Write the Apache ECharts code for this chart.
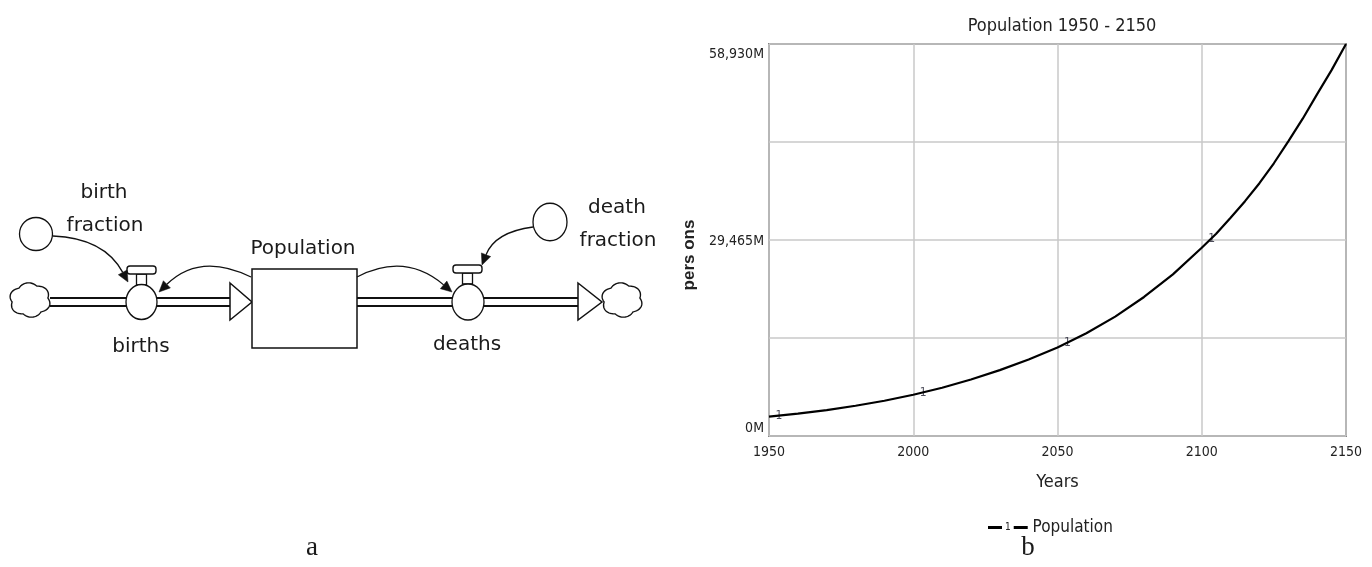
<!DOCTYPE html>
<html>
<head>
<meta charset="utf-8">
<script src="https://cdn.jsdelivr.net/npm/echarts@6/dist/echarts.min.js"></script>
<style>
  html, body { margin: 0; padding: 0; background: #fff; }
  #chart { width: 1372px; height: 567px; }
</style>
</head>
<body>
<div id="chart"></div>
<script>
// ---- data ----
const years = [1950, 1960, 1970, 1980, 1990, 2000, 2010, 2020, 2030, 2040, 2050,
               2060, 2070, 2080, 2090, 2100, 2105, 2110, 2115, 2120, 2125, 2130,
               2135, 2140, 2145, 2150];
const population = [2900, 3350, 3900, 4550, 5300, 6200, 7250, 8500, 9900, 11500, 13300,
                    15450, 17950, 20900, 24300, 28300, 30400, 32800, 35300, 38000, 41000, 44300,
                    47700, 51400, 55000, 58930];
const markerYears = [1953.4, 2003.4, 2053.4, 2103.4];
const markerValues = [3050, 6550, 14000, 29600];
const markerLabel = '1';
const xTickLabels = ['1950', '2000', '2050', '2100', '2150'];
const yTickLabels = ['0M', '', '29,465M', '', '58,930M'];
const yMax = 58930;
const chartTitle = 'Population 1950 - 2150';
const seriesName = 'Population';
const xName = 'Years';
const yName = 'pers ons';
const diagramTexts = {
  birth1: 'birth', birth2: 'fraction', stock: 'Population', births: 'births',
  death1: 'death', death2: 'fraction', deaths: 'deaths', a: 'a', b: 'b'
};

// ---- rendering ----
const NARROW = "'Liberation Sans Narrow', 'Arial Narrow', 'DejaVu Sans Condensed', sans-serif";
const DIA = "'DejaVu Sans', sans-serif";
const SERIF = "'Liberation Serif', 'Times New Roman', serif";
const ink = '#111';

const linePoints = years.map((y, i) => [y, population[i]]);
const markerPoints = markerYears.map((y, i) => [y, markerValues[i]]);
const yInterval = yMax / 4;

function link(p0, c, tip) {
  const dx = tip[0] - c[0], dy = tip[1] - c[1];
  const L = Math.hypot(dx, dy);
  const ux = dx / L, uy = dy / L;
  const bx = tip[0] - ux * 11, by = tip[1] - uy * 11;
  const nx = -uy, ny = ux;
  return [
    { type: 'bezierCurve', shape: { x1: p0[0], y1: p0[1], x2: bx, y2: by, cpx1: c[0], cpy1: c[1] },
      style: { stroke: ink, lineWidth: 1.3, fill: null } },
    { type: 'polygon', shape: { points: [tip, [bx + nx * 5, by + ny * 5], [bx - nx * 5, by - ny * 5]] },
      style: { fill: ink, stroke: ink, lineWidth: 0.5 } }
  ];
}
function pipe(x1, x2) {
  return [
    { type: 'line', shape: { x1: x1, y1: 298, x2: x2, y2: 298 }, style: { stroke: ink, lineWidth: 2 } },
    { type: 'line', shape: { x1: x1, y1: 306, x2: x2, y2: 306 }, style: { stroke: ink, lineWidth: 2 } }
  ];
}
function hollowArrow(xb, xt) {
  return { type: 'polygon', shape: { points: [[xb, 283], [xt, 302], [xb, 320]] },
           style: { fill: '#fff', stroke: ink, lineWidth: 1.5 } };
}
function cloud(cx, cy) {
  const pts = [];
  for (let k = 0; k < 160; k++) {
    const t = k / 160 * Math.PI * 2;
    const rr = 1 + 0.15 * Math.abs(Math.sin(3 * t + 0.4));
    pts.push([cx + 18 * rr * Math.cos(t), cy + 15 * rr * Math.sin(t)]);
  }
  return { type: 'polygon', shape: { points: pts }, style: { fill: '#fff', stroke: ink, lineWidth: 1.4 } };
}
function valve(cx, cy, rx, ry, hx1, hx2, hy) {
  return [
    { type: 'rect', shape: { x: (hx1 + hx2) / 2 - 5, y: hy + 8, width: 10, height: 11 },
      style: { fill: '#fff', stroke: ink, lineWidth: 1.3 } },
    { type: 'rect', shape: { x: hx1, y: hy, width: hx2 - hx1, height: 8, r: 3 },
      style: { fill: '#fff', stroke: ink, lineWidth: 1.4 } },
    { type: 'circle', x: cx, y: cy, scaleY: ry / rx, shape: { cx: 0, cy: 0, r: rx },
      style: { fill: '#fff', stroke: ink, lineWidth: 1.3 } }
  ];
}
function txt(s, x, y, size, family) {
  return { type: 'text', x: x, y: y,
           style: { text: s, fontSize: size, fontFamily: family, fill: '#1a1a1a', align: 'center', verticalAlign: 'middle' } };
}
function aux(cx, cy, rx, ry) {
  return { type: 'circle', x: cx, y: cy, scaleY: ry / rx, shape: { cx: 0, cy: 0, r: rx },
           style: { fill: '#fff', stroke: ink, lineWidth: 1.3 } };
}

const graphics = [].concat(
  pipe(50, 230), pipe(357, 578),
  [hollowArrow(230, 252), hollowArrow(578, 602)],
  [{ type: 'rect', shape: { x: 252, y: 269, width: 105, height: 79 },
     style: { fill: '#fff', stroke: ink, lineWidth: 1.5 } }],
  [cloud(30, 300), cloud(622, 300)],
  valve(141.5, 302, 15.5, 17.5, 127, 156, 266),
  valve(468, 302, 16, 18, 453, 482, 265),
  [aux(36, 234, 16.5, 16.5), aux(550, 222, 17, 18.7)],
  link([53, 236], [104, 238], [128, 282]),
  link([251, 277], [200, 252], [159, 292]),
  link([357, 277], [405, 252], [452, 292]),
  link([533, 227], [495, 232], [482, 265]),
  [
    txt(diagramTexts.birth1, 104, 193, 20, DIA),
    txt(diagramTexts.birth2, 105, 226, 20, DIA),
    txt(diagramTexts.stock, 303, 249, 20, DIA),
    txt(diagramTexts.births, 141, 347, 20, DIA),
    txt(diagramTexts.death1, 617, 208, 20, DIA),
    txt(diagramTexts.death2, 618, 241, 20, DIA),
    txt(diagramTexts.deaths, 467, 345, 20, DIA),
    txt(diagramTexts.a, 312, 548, 27, SERIF),
    txt(diagramTexts.b, 1028, 548, 27, SERIF)
  ]
);

const chart = echarts.init(document.getElementById('chart'), null, { renderer: 'canvas' });
chart.setOption({
  animation: false,
  backgroundColor: '#fff',
  title: {
    text: chartTitle, left: 1057, top: 12, textAlign: 'center',
    textStyle: { fontFamily: NARROW, fontSize: 18, fontWeight: 'normal', color: '#222' }
  },
  grid: {
    left: 769, right: 26, top: 44, bottom: 131, show: true,
    borderColor: '#858585', borderWidth: 2, backgroundColor: 'transparent'
  },
  legend: {
    data: [seriesName], left: 978, top: 514, icon: 'rect', itemWidth: 0, itemHeight: 0,
    selectedMode: false,
    formatter: '{d| }{o|' + markerLabel + '}{d| }{t| ' + seriesName + '}',
    textStyle: {
      color: '#222',
      rich: {
        d: { width: 14, height: 3, backgroundColor: '#000', fontSize: 2 },
        o: { fontSize: 10, fontFamily: NARROW, padding: [0, 3, 0, 3], color: '#222' },
        t: { fontSize: 17, fontFamily: NARROW, color: '#222' }
      }
    }
  },
  xAxis: {
    type: 'value', min: 1950, max: 2150, interval: 50,
    name: xName, nameLocation: 'middle', nameGap: 37,
    nameTextStyle: { fontFamily: NARROW, fontSize: 18, color: '#222' },
    axisLine: { show: false }, axisTick: { show: false },
    axisLabel: {
      margin: 9, fontFamily: NARROW, fontSize: 14, color: '#222',
      formatter: function (v) { return xTickLabels[Math.round((v - 1950) / 50)] || ''; }
    },
    splitLine: { show: true, lineStyle: { color: '#c8c8c8', width: 1.5 } }
  },
  yAxis: {
    type: 'value', min: 0, max: yMax, interval: yInterval,
    name: yName, nameLocation: 'middle', nameGap: 71, nameRotate: 90,
    nameTextStyle: { fontFamily: "'Liberation Sans', Arial, sans-serif", fontSize: 17, fontWeight: 'bold',
                     color: '#222', padding: [0, 30, 0, 0] },
    axisLine: { show: false }, axisTick: { show: false },
    axisLabel: {
      margin: 5, fontFamily: NARROW, fontSize: 14, color: '#222',
      formatter: function (v) {
        const i = Math.round(v / yInterval);
        const s = yTickLabels[i] || '';
        if (!s) return '';
        if (i === 0) return '{bot|' + s + '}';
        if (i === 4) return '{top|' + s + '}';
        return '{mid|' + s + '}';
      },
      rich: {
        top: { fontFamily: NARROW, fontSize: 14, color: '#222', padding: [20, 0, 0, 0] },
        mid: { fontFamily: NARROW, fontSize: 14, color: '#222', padding: [3, 0, 0, 0] },
        bot: { fontFamily: NARROW, fontSize: 14, color: '#222', padding: [0, 0, 16, 0] }
      }
    },
    splitLine: { show: true, lineStyle: { color: '#c8c8c8', width: 1.5 } }
  },
  series: [
    {
      name: seriesName, type: 'line', data: linePoints, smooth: false,
      showSymbol: false, symbol: 'none',
      lineStyle: { color: '#000', width: 2.2 }, itemStyle: { color: '#000' }
    },
    {
      name: 'markers', type: 'scatter', data: markerPoints, symbol: 'circle', symbolSize: 1,
      itemStyle: { color: 'transparent' },
      label: { show: true, formatter: markerLabel, position: 'inside', fontSize: 12,
               fontFamily: NARROW, color: '#223' }
    }
  ],
  graphic: graphics
});
</script>
</body>
</html>
